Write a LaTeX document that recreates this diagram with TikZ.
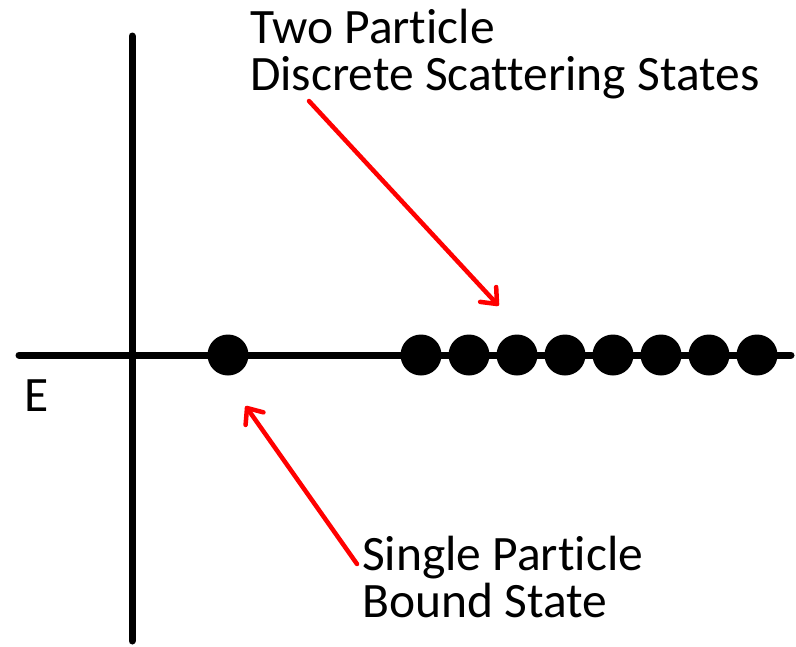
\documentclass[tikz,border=0pt]{standalone}
\usepackage{fontspec}
\setmainfont[Ligatures=NoCommon]{Carlito}
\usetikzlibrary{calc}
\begin{document}
\begin{tikzpicture}[x=1pt,y=-1pt,
  axisline/.style={line width=7pt,line cap=round},
  dot/.style={circle,fill=black,minimum size=41pt,inner sep=0pt},
  redline/.style={red,line width=4.5pt,line cap=round,line join=round},
  lbl/.style={font=\fontsize{49.5}{47}\selectfont,anchor=base west,inner sep=0pt,align=left}]
\useasboundingbox (0,0) rectangle (796,646);
\coordinate (xl) at (19,355);
\coordinate (xr) at (791,355);
\coordinate (yt) at (132,36);
\coordinate (yb) at (132,641);
\draw[axisline] (xl) -- (xr);
\draw[axisline] (yt) -- (yb);
\node[dot] (b) at (228,355) {};
\foreach \i/\x in {1/421,2/469,3/517,4/565,5/613,6/661,7/709,8/757}
  \node[dot] (s\i) at (\x,355) {};
\node[lbl] (E) at (24,411) {E};
\node[lbl] (top) at (250,90) {Two Particle\\Discrete Scattering States};
\node[lbl] (bot) at (362,617) {Single Particle\\Bound State};
\coordinate (t1) at (309,101);
\coordinate (t2) at (497,304);
\coordinate (b1) at (357,564);
\coordinate (b2) at (247,408);
\draw[redline] (t1) -- (t2);
\draw[redline] ($(t2)!17pt!40:(t1)$) -- (t2) -- ($(t2)!17pt!-40:(t1)$);
\draw[redline] (b1) -- (b2);
\draw[redline] ($(b2)!17pt!40:(b1)$) -- (b2) -- ($(b2)!17pt!-40:(b1)$);
\end{tikzpicture}
\end{document}
